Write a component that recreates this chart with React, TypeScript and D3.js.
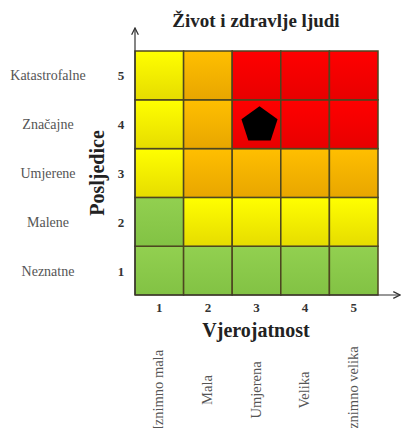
import React, { useEffect, useRef } from 'react';
import * as d3 from 'd3';

// risk matrix data
const likelihood = [1, 2, 3, 4, 5];
const consequence = [1, 2, 3, 4, 5];
const likelihoodLabels = ['Iznimno mala', 'Mala', 'Umjerena', 'Velika', 'Iznimno velika'];
const consequenceLabels = ['Neznatne', 'Malene', 'Umjerene', 'Značajne', 'Katastrofalne'];
// rows from consequence 1 (bottom) to 5 (top), columns likelihood 1..5
const levels = [
  ['G', 'G', 'G', 'G', 'G'],
  ['G', 'Y', 'Y', 'Y', 'Y'],
  ['Y', 'O', 'O', 'O', 'O'],
  ['Y', 'O', 'R', 'R', 'R'],
  ['Y', 'O', 'R', 'R', 'R'],
];
const marker = { likelihood: 3, consequence: 4 };

const colors: Record<string, [string, string]> = {
  G: ['#92d050', '#82c244'],
  Y: ['#ffff00', '#e6dc00'],
  O: ['#ffbf00', '#e8a600'],
  R: ['#ff0000', '#e80000'],
};

export default function App() {
  const ref = useRef<SVGSVGElement | null>(null);

  useEffect(() => {
    if (!ref.current) return;
    const svg = d3.select(ref.current);
    svg.selectAll('*').remove();
    const serif = '"Liberation Serif", serif';

    const x = d3.scaleBand<number>().domain(likelihood).range([135, 378]);
    const y = d3.scaleBand<number>().domain(consequence).range([295, 51]);

    const defs = svg.append('defs');
    Object.entries(colors).forEach(([k, [c1, c2]]) => {
      const g = defs.append('linearGradient').attr('id', 'grad' + k).attr('x1', 0).attr('y1', 0).attr('x2', 0).attr('y2', 1);
      g.append('stop').attr('offset', '0%').attr('stop-color', c1);
      g.append('stop').attr('offset', '100%').attr('stop-color', c2);
    });
    const arrow = defs.append('marker').attr('id', 'arr').attr('viewBox', '0 0 10 10')
      .attr('refX', 9).attr('refY', 5).attr('markerWidth', 7).attr('markerHeight', 7).attr('orient', 'auto');
    arrow.append('path').attr('d', 'M1,1 L9,5 L1,9').attr('fill', 'none').attr('stroke', '#333').attr('stroke-width', 1.5);

    // cells
    const cells: { l: number; c: number; k: string }[] = [];
    consequence.forEach((c, ri) => likelihood.forEach((l, ci) => cells.push({ l, c, k: levels[ri][ci] })));
    svg.append('g').selectAll('rect').data(cells).join('rect')
      .attr('x', d => x(d.l)!)
      .attr('y', d => y(d.c)!)
      .attr('width', x.bandwidth())
      .attr('height', y.bandwidth())
      .attr('fill', d => `url(#grad${d.k})`)
      .attr('stroke', '#4d4620')
      .attr('stroke-width', 1.5);

    // axes arrows
    svg.append('line').attr('x1', 135).attr('y1', 295).attr('x2', 135).attr('y2', 28)
      .attr('stroke', '#333').attr('stroke-width', 1.2).attr('marker-end', 'url(#arr)');
    svg.append('line').attr('x1', 135).attr('y1', 295).attr('x2', 400).attr('y2', 295)
      .attr('stroke', '#333').attr('stroke-width', 1.2).attr('marker-end', 'url(#arr)');

    // marker pentagon
    const r = 19;
    const cx = x(marker.likelihood)! + x.bandwidth() / 2 + 3;
    const cy = y(marker.consequence)! + y.bandwidth() / 2 + 1;
    const pts = d3.range(5).map(i => {
      const a = -Math.PI / 2 + (i * 2 * Math.PI) / 5;
      return [cx + r * Math.cos(a), cy + r * Math.sin(a)];
    });
    svg.append('path').attr('d', 'M' + pts.map(p => p.join(',')).join('L') + 'Z').attr('fill', '#000');

    // title
    svg.append('text').attr('x', 256).attr('y', 27).attr('text-anchor', 'middle')
      .attr('font-family', serif).attr('font-weight', 'bold').attr('font-size', 19).attr('fill', '#222')
      .text('Život i zdravlje ljudi');

    // y labels
    const yl = svg.append('g');
    yl.selectAll('text.num').data(consequence).join('text').attr('class', 'num')
      .attr('x', 121).attr('y', d => y(d)! + y.bandwidth() / 2 + 5).attr('text-anchor', 'middle')
      .attr('font-family', serif).attr('font-weight', 'bold').attr('font-size', 13).attr('fill', '#333')
      .text(d => d);
    yl.selectAll('text.cat').data(consequence).join('text').attr('class', 'cat')
      .attr('x', 48).attr('y', d => y(d)! + y.bandwidth() / 2 + 5).attr('text-anchor', 'middle')
      .attr('font-family', serif).attr('font-size', 14).attr('fill', '#555')
      .text((d, i) => consequenceLabels[i]);
    svg.append('text').attr('transform', `translate(104,${(51 + 295) / 2}) rotate(-90)`)
      .attr('text-anchor', 'middle').attr('font-family', serif).attr('font-weight', 'bold')
      .attr('font-size', 20).attr('fill', '#222').text('Posljedice');

    // x labels
    svg.append('g').selectAll('text').data(likelihood).join('text')
      .attr('x', d => x(d)! + x.bandwidth() / 2).attr('y', 312).attr('text-anchor', 'middle')
      .attr('font-family', serif).attr('font-weight', 'bold').attr('font-size', 13).attr('fill', '#333')
      .text(d => d);
    svg.append('text').attr('x', 256).attr('y', 337).attr('text-anchor', 'middle')
      .attr('font-family', serif).attr('font-weight', 'bold').attr('font-size', 20).attr('fill', '#222')
      .text('Vjerojatnost');
    svg.append('g').selectAll('text').data(likelihood).join('text')
      .attr('transform', d => `translate(${x(d)! + x.bandwidth() / 2 - 1},390) rotate(-90)`)
      .attr('text-anchor', 'middle').attr('dy', '0.35em')
      .attr('font-family', serif).attr('font-size', 14.5).attr('fill', '#555')
      .text((d, i) => likelihoodLabels[i]);
  }, []);

  return (
    <svg ref={ref} width={401} height={428} style={{ position: 'absolute', left: 0, top: 0, background: '#fff' }} />
  );
}
